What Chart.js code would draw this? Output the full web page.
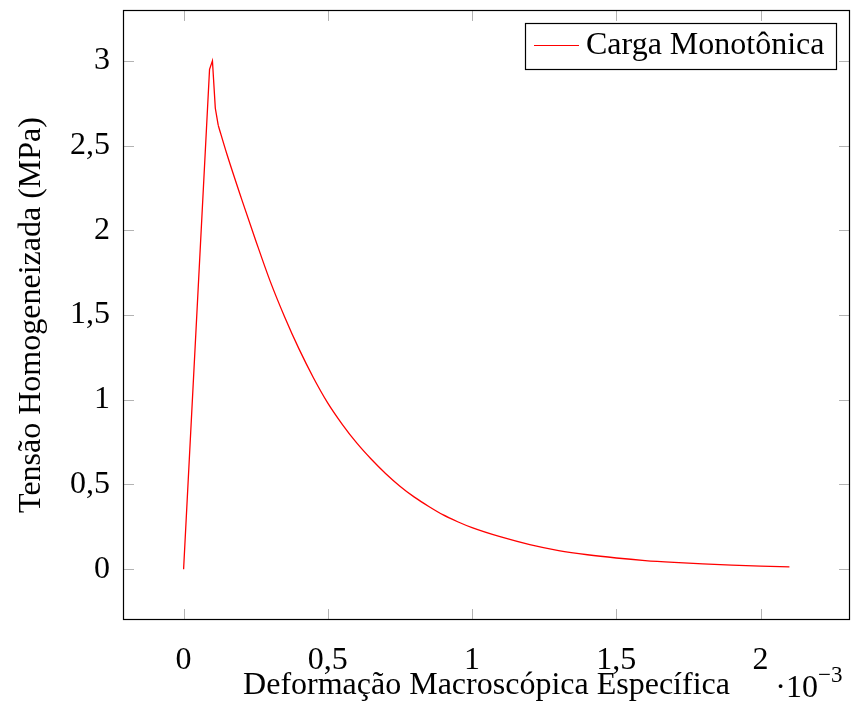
<!DOCTYPE html>
<html>
<head>
<meta charset="utf-8">
<script src="https://cdn.jsdelivr.net/npm/chart.js@4/dist/chart.umd.min.js"></script>
<style>
  html, body { margin: 0; padding: 0; background: #fff; }
  canvas { display: block; }
</style>
</head>
<body>
<canvas id="c" width="851" height="705"></canvas>
<script>
// Data (strain in units of 1e-3, stress in MPa)
const strain = [0, 0.09, 0.1, 0.11, 0.12, 0.15, 0.2, 0.25, 0.3, 0.35, 0.4, 0.45, 0.5, 0.55, 0.6, 0.65, 0.7, 0.75, 0.8, 0.85, 0.9, 0.95, 1.0, 1.1, 1.2, 1.3, 1.4, 1.5, 1.6, 1.7, 1.8, 1.9, 2.0, 2.1];
const stress = [0, 2.95, 3.0, 2.72, 2.62, 2.45, 2.19, 1.94, 1.70, 1.49, 1.30, 1.13, 0.98, 0.855, 0.745, 0.65, 0.565, 0.49, 0.425, 0.37, 0.32, 0.28, 0.245, 0.19, 0.145, 0.11, 0.085, 0.066, 0.051, 0.04, 0.031, 0.024, 0.018, 0.014];
const xTicks = [0, 0.5, 1, 1.5, 2];
const yTicks = [0, 0.5, 1, 1.5, 2, 2.5, 3];
const seriesLabel = 'Carga Monotônica';
const xTitle = 'Deformação Macroscópica Específica';
const yTitle = 'Tensão Homogeneizada (MPa)';
const xScaleBase = '·10';
const xScaleExp = '−3';
const peakEnd = 4; // index where the sharp peak part ends and the smooth softening branch starts

const FONT = "'Liberation Serif', 'DejaVu Serif', serif";
const fmt = v => String(v).replace('.', ',');
const pts = strain.map((v, i) => ({x: v, y: stress[i]}));

const frame = {
  id: 'frame',
  afterDraw(chart) {
    const {ctx, chartArea: a, scales: {x, y}} = chart;
    ctx.save();
    // inside ticks
    ctx.strokeStyle = '#b3b3b3';
    ctx.lineWidth = 1;
    const L = 11;
    ctx.beginPath();
    yTicks.forEach(v => {
      const py = Math.round(y.getPixelForValue(v)) + 0.5;
      ctx.moveTo(a.left, py); ctx.lineTo(a.left + L, py);
      ctx.moveTo(a.right - L, py); ctx.lineTo(a.right, py);
    });
    xTicks.forEach(v => {
      const px = Math.round(x.getPixelForValue(v)) + 0.5;
      ctx.moveTo(px, a.bottom); ctx.lineTo(px, a.bottom - L);
      ctx.moveTo(px, a.top); ctx.lineTo(px, a.top + L);
    });
    ctx.stroke();
    // frame
    ctx.strokeStyle = '#000';
    ctx.lineWidth = 1.2;
    ctx.strokeRect(a.left + 0.5, a.top + 0.5, a.right - a.left - 1, a.bottom - a.top - 1);
    // legend
    const ds = chart.data.datasets[0];
    const bx = a.right - 14 - 311, by = a.top + 13, bw = 311, bh = 46;
    ctx.fillStyle = '#fff';
    ctx.fillRect(bx, by, bw, bh);
    ctx.lineWidth = 1.2;
    ctx.strokeStyle = '#000';
    ctx.strokeRect(bx + 0.5, by + 0.5, bw, bh);
    ctx.strokeStyle = ds.borderColor;
    ctx.lineWidth = 1.2;
    ctx.beginPath();
    ctx.moveTo(bx + 9, by + 22.5); ctx.lineTo(bx + 54, by + 22.5);
    ctx.stroke();
    ctx.fillStyle = '#000';
    ctx.font = '32px ' + FONT;
    ctx.textAlign = 'left';
    ctx.textBaseline = 'middle';
    ctx.fillText(ds.label, bx + 61, by + 23);
    // x scale multiplier
    ctx.textBaseline = 'alphabetic';
    ctx.textAlign = 'right';
    ctx.font = '32px ' + FONT;
    ctx.fillText(xScaleBase, a.right - 32, 697);
    ctx.textAlign = 'left';
    ctx.font = '23px ' + FONT;
    ctx.fillText(xScaleExp, a.right - 32, 682);
    ctx.restore();
  }
};

new Chart(document.getElementById('c'), {
  type: 'line',
  data: {
    datasets: [{
      label: seriesLabel,
      data: pts.slice(0, peakEnd + 1),
      borderColor: '#ff0000',
      borderWidth: 1.3,
      pointRadius: 0,
      tension: 0,
      fill: false
    }, {
      label: seriesLabel,
      data: pts.slice(peakEnd),
      borderColor: '#ff0000',
      borderWidth: 1.3,
      pointRadius: 0,
      cubicInterpolationMode: 'monotone',
      fill: false
    }]
  },
  options: {
    responsive: false,
    animation: false,
    layout: { padding: { top: 10, right: 1, left: 0, bottom: 0 } },
    plugins: { legend: { display: false }, tooltip: { enabled: false } },
    scales: {
      x: {
        type: 'linear',
        min: -0.21, max: 2.31,
        afterBuildTicks: s => { s.ticks = xTicks.map(v => ({value: v})); },
        afterFit: s => { s.height = 85; s.paddingLeft = 0; s.paddingRight = 0; },
        grid: { display: false, drawTicks: false },
        border: { display: false },
        ticks: {
          padding: 21, color: '#000', maxRotation: 0, autoSkip: false,
          font: { family: FONT, size: 32 },
          callback: v => fmt(v)
        },
        title: {
          display: true, text: xTitle, color: '#000',
          font: { family: FONT, size: 32 },
          padding: { top: 0, bottom: 0 }
        }
      },
      y: {
        type: 'linear',
        min: -0.3, max: 3.3,
        afterBuildTicks: s => { s.ticks = yTicks.map(v => ({value: v})); },
        afterFit: s => { s.width = 123; s.paddingTop = 0; s.paddingBottom = 0; },
        grid: { display: false, drawTicks: false },
        border: { display: false },
        ticks: {
          padding: 13, color: '#000', autoSkip: false,
          font: { family: FONT, size: 32 },
          callback: v => fmt(v)
        },
        title: {
          display: true, text: yTitle, color: '#000',
          font: { family: FONT, size: 32 },
          padding: { top: 12, bottom: 0 }
        }
      }
    }
  },
  plugins: [frame]
});
</script>
</body>
</html>
